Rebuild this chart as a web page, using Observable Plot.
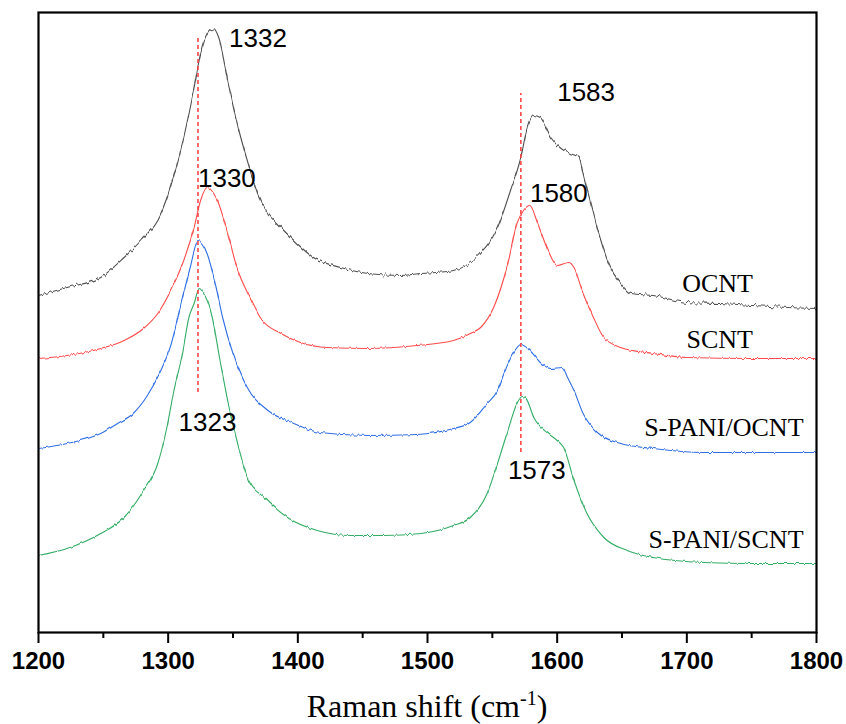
<!DOCTYPE html>
<html>
<head>
<meta charset="utf-8">
<script src="https://cdn.jsdelivr.net/npm/d3@7"></script>
<script src="https://cdn.jsdelivr.net/npm/@observablehq/plot@0.6"></script>
<style>
  body { margin: 0; background: #fff; }
</style>
</head>
<body>
<div id="chart"></div>
<script>
// Raman shift (cm-1), intensity (a.u., offset stacked)
const ocnt = [[1200,337],[1222,345],[1248,355],[1266,375],[1279,392],[1294,418],[1304,455],[1312,495],[1320,545],[1325,579],[1330,599],[1334,604],[1339,594],[1346,552],[1354,505],[1361,472],[1369,439],[1377,419],[1384,409],[1397,392],[1412,375],[1433,365],[1454,359],[1479,357],[1495,359],[1520,362],[1539,377],[1554,405],[1564,442],[1572,475],[1577,505],[1582,517],[1587,515],[1595,495],[1603,484],[1610,479],[1617,475],[1620,459],[1626,429],[1633,395],[1641,365],[1649,349],[1657,339],[1674,337],[1700,330],[1726,329],[1751,327],[1778,325],[1800,324]];
const scnt = [[1200,274],[1222,277],[1248,284],[1266,292],[1281,304],[1292,319],[1302,342],[1312,372],[1320,405],[1325,432],[1330,445],[1338,432],[1346,399],[1353,365],[1363,335],[1371,315],[1387,299],[1402,290],[1423,285],[1454,284],[1492,287],[1520,292],[1533,299],[1541,305],[1551,325],[1562,369],[1569,409],[1574,422],[1579,427],[1585,409],[1593,382],[1600,367],[1609,370],[1613,365],[1620,339],[1628,315],[1636,295],[1649,285],[1674,279],[1700,275],[1751,274],[1800,274]];
const spaniOcnt = [[1200,184],[1222,189],[1248,199],[1261,209],[1273,219],[1284,237],[1294,261],[1302,287],[1310,329],[1317,365],[1323,392],[1330,379],[1337,345],[1342,315],[1350,279],[1361,245],[1377,222],[1397,209],[1417,200],[1454,197],[1492,198],[1520,204],[1533,210],[1546,229],[1554,242],[1559,259],[1566,279],[1572,288],[1579,282],[1587,270],[1595,264],[1604,265],[1608,255],[1613,242],[1620,219],[1631,200],[1649,189],[1674,184],[1713,180],[1751,180],[1800,180]];
const spaniScnt = [[1200,77],[1222,84],[1248,99],[1266,115],[1281,142],[1292,169],[1299,205],[1304,239],[1311,279],[1316,315],[1320,329],[1324,344],[1329,335],[1331,329],[1334,315],[1340,272],[1347,225],[1353,192],[1362,152],[1374,135],[1392,115],[1415,102],[1441,97],[1466,97],[1495,99],[1520,107],[1533,115],[1546,139],[1554,169],[1562,202],[1569,229],[1573,236],[1576,234],[1582,215],[1593,199],[1600,192],[1605,185],[1613,152],[1623,119],[1636,95],[1654,82],[1674,75],[1713,70],[1751,69],[1800,69]];

const seriesNames = ["OCNT", "SCNT", "S-PANI/OCNT", "S-PANI/SCNT"];
const seriesColors = ["#505050", "#ff4b4b", "#2f6fe4", "#33ad66"];
const seriesData = [ocnt, scnt, spaniOcnt, spaniScnt];

// series name labels: [text, x (cm-1, right end), intensity]
const nameLabels = [["OCNT",1751,349],["SCNT",1751,293],["S-PANI/OCNT",1790,205],["S-PANI/SCNT",1790,93]];
// peak position labels: [text, x (cm-1, left end), intensity]
const peakLabels = [["1332",1347,594],["1330",1323,454],["1323",1308,210],["1583",1600,540],["1580",1579,439],["1573",1562,162]];
// dashed guide lines: [x, y1, y2]
const guides = [[1323,240,597],[1572,180,539]];

const majorTicks = [1200,1300,1400,1500,1600,1700,1800];
const minorTicks = [1250,1350,1450,1550,1650,1750];

const lineMarks = seriesData.map((d, k) =>
  Plot.line(d, {x: p => p[0], y: p => p[1], stroke: seriesColors[k], strokeWidth: 1.1, curve: "monotone-x",
    render: (index, scales, values, dims, ctx, next) => {
      const g = next(index, scales, values, dims, ctx);
      g.setAttribute("filter", k === 0 ? "url(#jitterStrong)" : "url(#jitterWeak)");
      return g;
    }})
);

const chart = Plot.plot({
  width: 846,
  height: 724,
  marginLeft: 38,
  marginRight: 30,
  marginTop: 12,
  marginBottom: 92,
  style: {fontFamily: "Liberation Sans, Arial, sans-serif", background: "#fff", overflow: "visible"},
  x: {domain: [1200, 1800]},
  y: {domain: [0, 620], axis: null},
  marks: [
    ...lineMarks,
    Plot.ruleX(guides, {x: d => d[0], y1: d => d[1], y2: d => d[2], stroke: "#ff3b3b", strokeWidth: 1.5, strokeDasharray: "4,3"}),
    Plot.text(peakLabels, {x: d => d[1], y: d => d[2], text: d => d[0], textAnchor: "start", fontSize: 26, fill: "#000", fontFamily: "Liberation Sans, Arial, sans-serif"}),
    Plot.text(nameLabels, {x: d => d[1], y: d => d[2], text: d => d[0], textAnchor: "end", fontSize: 26, fill: "#000", fontFamily: "Liberation Serif, Times New Roman, serif"}),
    Plot.axisX({ticks: minorTicks, tickSize: 6, tickFormat: () => "", strokeWidth: 2, label: null}),
    Plot.axisX({ticks: majorTicks, tickSize: 11, tickPadding: 8, tickFormat: d => String(d), strokeWidth: 2, fontSize: 24, fontWeight: "bold", fill: "#000", label: null}),
    Plot.frame({stroke: "#000", strokeWidth: 2.2})
  ]
});

const svg = d3.select(chart);
// texture filters (styling only): small vertical jitter along the traces
const defs = svg.insert("defs", ":first-child");
[["jitterStrong", 7, 11], ["jitterWeak", 3.5, 23]].forEach(([id, scale, seed]) => {
  const f = defs.append("filter").attr("id", id).attr("filterUnits", "userSpaceOnUse")
    .attr("x", 0).attr("y", 0).attr("width", 846).attr("height", 724);
  f.append("feTurbulence").attr("type", "fractalNoise").attr("baseFrequency", "0.45 0.015")
    .attr("numOctaves", 1).attr("seed", seed).attr("result", "noise");
  f.append("feColorMatrix").attr("in", "noise").attr("type", "matrix")
    .attr("values", "0 0 0 0 0.5  0 1 0 0 0  0 0 0 0 0  0 0 0 0 1").attr("result", "disp");
  f.append("feDisplacementMap").attr("in", "SourceGraphic").attr("in2", "disp")
    .attr("scale", scale).attr("xChannelSelector", "R").attr("yChannelSelector", "G");
});

const xs = chart.scale("x");
const title = svg.append("text")
  .attr("x", (xs.apply(1200) + xs.apply(1800)) / 2)
  .attr("y", 717)
  .attr("text-anchor", "middle")
  .attr("font-family", "Liberation Serif, Times New Roman, serif")
  .attr("font-size", 32)
  .attr("fill", "#000");
title.append("tspan").text("Raman shift (cm");
title.append("tspan").attr("dy", -12).attr("font-size", 20).text("-1");
title.append("tspan").attr("dy", 12).text(")");

document.getElementById("chart").appendChild(chart);
</script>
</body>
</html>
